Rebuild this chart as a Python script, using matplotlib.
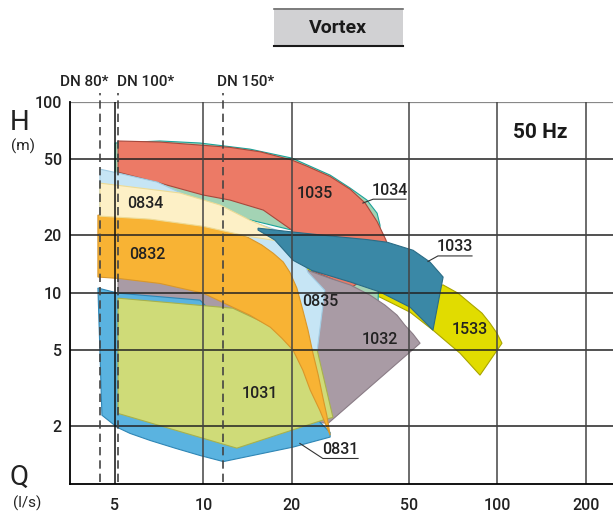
import matplotlib
matplotlib.use("Agg")
import matplotlib.pyplot as plt
from matplotlib.ticker import NullLocator
from matplotlib.patches import Rectangle
from matplotlib.lines import Line2D

plt.rcParams['font.family'] = ['Roboto', 'DejaVu Sans']

# pump ranges: flow Q (l/s) and head H (m) outlines
q_1034 = [5.01, 7.12, 9.74, 14.4, 20.0, 27.0, 31.6, 36.0, 39.0, 39.9, 39.6, 39.3, 31.6, 23.6, 20.5, 20.0, 13.6, 9.74, 5.01]
h_1034 = [60.8, 62.3, 60.8, 56.5, 50.7, 41.3, 35.3, 30.6, 26.1, 22.6, 14.8, 8.83, 10.6, 12.8, 17.8, 21.3, 24.6, 29.1, 34.5]

q_1035 = [5.13, 7.12, 9.74, 12.3, 15.6, 20.0, 22.5, 27.0, 31.6, 35.5, 39.0, 41.8, 43.8, 32.0, 23.6, 20.5, 20.0, 16.0, 12.3, 9.98, 7.12, 5.13]
h_1035 = [62.3, 61.5, 59.3, 57.7, 54.7, 49.5, 46.0, 40.6, 34.8, 29.5, 23.6, 18.9, 14.8, 10.7, 13.0, 18.4, 21.3, 27.1, 30.6, 32.5, 37.5, 42.8]

q_1533 = [21.3, 31.6, 39.9, 50.5, 65.4, 73.5, 80.7, 88.7, 94.4, 99.7, 103.7, 87.3, 74.7, 60.4, 50.5, 39.9, 31.6, 21.3]
h_1533 = [14.0, 12.1, 10.8, 10.3, 11.0, 9.96, 8.83, 7.83, 6.94, 6.15, 5.45, 3.71, 4.83, 6.38, 7.92, 9.49, 10.6, 13.1]

q_1033 = [15.35, 20.2, 29.2, 36.0, 42.2, 51.7, 59.0, 65.4, 60.4, 50.5, 39.9, 31.6, 23.4, 20.2, 17.5, 15.35]
h_1033 = [21.8, 20.8, 19.6, 19.0, 18.4, 16.7, 14.5, 12.1, 6.38, 8.41, 10.1, 11.4, 13.1, 14.8, 18.9, 21.3]

q_1032 = [5.13, 9.74, 15.6, 22.7, 27.0, 31.6, 36.9, 41.5, 45.6, 48.5, 51.7, 54.6, 26.6, 9.74, 5.13]
h_1032 = [12.2, 11.9, 12.8, 13.1, 11.9, 11.0, 9.73, 8.62, 7.64, 6.77, 6.08, 5.45, 2.08, 2.29, 2.74]

q_0831 = [4.38, 5.13, 9.74, 27.0, 27.0, 20.2, 11.7, 9.74, 8.01, 6.59, 5.63, 5.09, 4.52]
h_0831 = [10.6, 9.96, 9.16, 1.86, 1.76, 1.56, 1.31, 1.41, 1.54, 1.69, 1.84, 1.98, 2.29]

q_1031 = [5.13, 12.6, 18.2, 24.4, 27.6, 25.5, 13.0, 5.13]
h_1031 = [9.38, 8.31, 6.38, 5.01, 2.23, 2.16, 1.54, 2.34]

q_0835 = [4.45, 5.13, 6.96, 9.98, 14.1, 20.0, 21.3, 22.7, 25.9, 24.4, 20.2, 13.3, 6.59, 4.45]
h_0835 = [44.4, 42.3, 38.0, 29.5, 24.0, 20.0, 16.3, 12.8, 10.3, 5.01, 5.32, 9.16, 13.1, 14.5]

q_0832 = [4.38, 6.59, 9.98, 12.3, 14.1, 15.8, 17.3, 18.7, 19.7, 20.8, 21.8, 22.7, 23.6, 24.6, 25.5, 26.3, 27.0,
          24.9, 23.1, 21.8, 20.2, 18.5, 16.9, 14.4, 12.6, 9.98, 7.12, 5.13, 4.38]
h_0832 = [25.5, 24.6, 22.6, 21.0, 19.6, 17.8, 16.1, 14.5, 12.8, 10.6, 8.12, 6.38, 4.83, 3.71, 2.84, 2.29, 1.80,
          2.43, 3.10, 3.94, 5.01, 5.79, 6.61, 7.64, 8.41, 9.96, 11.2, 11.9, 12.1]

q_0834 = [4.45, 8.33, 11.4, 14.4, 20.0, 20.0, 14.1, 9.98, 6.59, 4.45]
h_0834 = [37.5, 33.3, 28.8, 24.0, 19.3, 18.2, 19.8, 22.3, 24.3, 25.2]

# label anchors (Q, H)
labels = ['0834', '0832', '1035', '0835', '1032', '1533', '1031']
label_q = [6.33, 6.43, 24.0, 24.9, 39.9, 80.7, 15.6]
label_h = [29.5, 15.9, 32.9, 9.04, 5.72, 6.45, 2.98]

# labels with leader + underline
lead_names = ['1034', '1033', '0831']
lead_q0 = [34.9, 58.1, 21.3]
lead_h0 = [29.5, 14.6, 1.63]
lead_q1 = [37.8, 62.8, 25.5]
lead_h1 = [30.9, 15.6, 1.36]
lead_q2 = [48.9, 82.0, 33.6]

dn_names = ['DN 80*', 'DN 100*', 'DN 150*']
dn_q = [4.45, 5.14, 11.7]

x_ticks = [5, 10, 20, 50, 100, 200]
y_ticks = [2, 5, 10, 20, 50, 100]

fig = plt.figure(figsize=(6.13, 5.13), dpi=100)
ax = fig.add_axes([70 / 613, 1 - 484 / 513, 543 / 613, (484 - 101.7) / 513])
ax.set_xscale('log')
ax.set_yscale('log')
ax.set_xlim(3.52, 247.4)
ax.set_ylim(1.0, 100)

# back to front
shapes = [
    (q_1533, h_1533, '#e1dc00', '#a9a400'),
    (q_1034, h_1034, '#a3d3b4', '#1aa39a'),
    (q_1035, h_1035, '#ec7a66', '#a8483c'),
    (q_1032, h_1032, '#a99ba5', '#8a7c86'),
    (q_0831, h_0831, '#5ab3e0', '#2f86b5'),
    (q_1031, h_1031, '#cfdb78', '#a8b14c'),
    (q_0835, h_0835, '#c6e5f5', '#a2cde4'),
    (q_0832, h_0832, '#f8b334', '#d9972a'),
    (q_0834, h_0834, '#fdf0c6', '#eddb96'),
    (q_1033, h_1033, '#3a88a6', '#2a6c86'),
]
for i, (q, h, fc, ec) in enumerate(shapes):
    ax.fill(q, h, facecolor=fc, edgecolor=ec, lw=0.8, zorder=2 + i * 0.1)

for y in y_ticks[:-1]:
    ax.axhline(y, color='#222222', lw=1.1, zorder=5)
ax.axhline(100, color='#888888', lw=1.6, zorder=5)
for x in x_ticks:
    ax.axvline(x, color='#111111' if x == 5 else '#444444', lw=1.1, zorder=5)

for q in dn_q:
    ax.plot([q, q], [1.02, 111], color='#444444', lw=1.2, ls=(0, (5, 3)),
            zorder=6, clip_on=False)

for name, q, h in zip(labels, label_q, label_h):
    ax.text(q, h, name, ha='center', va='center', fontsize=11.5, fontweight='medium',
            color='#222222', zorder=7)

for name, q0, h0, q1, h1, q2 in zip(lead_names, lead_q0, lead_h0, lead_q1, lead_h1, lead_q2):
    ax.plot([q0, q1, q2], [h0, h1, h1], color='#333333', lw=0.8, zorder=7)
    ax.text((q1 * q2) ** 0.5, h1 * 1.02, name, ha='center', va='bottom',
            fontsize=11.5, fontweight='medium', color='#222222', zorder=7)

for s in ['top', 'right']:
    ax.spines[s].set_visible(False)
ax.spines['left'].set_linewidth(1.3)
ax.spines['bottom'].set_linewidth(1.3)
ax.spines['left'].set_zorder(6)
ax.spines['bottom'].set_zorder(6)

ax.set_xticks(x_ticks)
ax.set_xticklabels([str(v) for v in x_ticks])
ax.set_yticks(y_ticks)
ax.set_yticklabels([str(v) for v in y_ticks])
ax.xaxis.set_minor_locator(NullLocator())
ax.yaxis.set_minor_locator(NullLocator())
ax.tick_params(length=0, labelsize=11.5, colors='#222222')
for lbl in ax.get_xticklabels() + ax.get_yticklabels():
    lbl.set_fontweight('medium')
ax.tick_params(axis='y', pad=6)
ax.tick_params(axis='x', pad=10)

# axis names
fig.text(20 / 613, 1 - 122 / 513, 'H', fontsize=20, ha='center', va='center', color='#222222')
fig.text(23 / 613, 1 - 146 / 513, '(m)', fontsize=11, ha='center', va='center', color='#222222')
fig.text(19 / 613, 1 - 477 / 513, 'Q', fontsize=20, ha='center', va='center', color='#222222')
fig.text(27 / 613, 1 - 503 / 513, '(l/s)', fontsize=11, ha='center', va='center', color='#222222')

for name, x in zip(dn_names, [60, 117, 217]):
    fig.text(x / 613, 1 - 82 / 513, name, fontsize=11, ha='left', va='center',
             color='#222222', fontweight='medium')

fig.text(540 / 613, 1 - 133 / 513, '50 Hz', fontsize=15, ha='center', va='center',
         fontweight='bold', color='#1a1a1a')

# title box
fig.patches.append(Rectangle((274 / 613, 1 - 46 / 513), 129 / 613, 38 / 513,
                             transform=fig.transFigure, facecolor='#d1d1d3', edgecolor='none'))
fig.add_artist(Line2D([274 / 613, 403 / 613], [1 - 8.5 / 513, 1 - 8.5 / 513],
                      color='#6e6e6e', lw=1.2, transform=fig.transFigure))
fig.add_artist(Line2D([274 / 613, 403 / 613], [1 - 45.5 / 513, 1 - 45.5 / 513],
                      color='#1a1a1a', lw=1.5, transform=fig.transFigure))
fig.text(338 / 613, 1 - 28 / 513, 'Vortex', fontsize=14, ha='center', va='center',
         fontweight='bold', color='#1a1a1a')

fig.savefig('out.png', dpi=100)
